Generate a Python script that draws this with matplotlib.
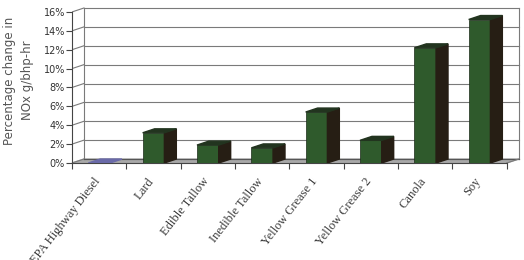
import matplotlib.pyplot as plt
import matplotlib.transforms as mtransforms
import numpy as np

# data
fuels = ['EPA Highway Diesel', 'Lard', 'Edible Tallow', 'Inedible Tallow',
         'Yellow Grease 1', 'Yellow Grease 2', 'Canola', 'Soy']
nox_change = [0.0, 3.2, 1.9, 1.6, 5.4, 2.4, 12.2, 15.2]
y_ticks = [0, 2, 4, 6, 8, 10, 12, 14, 16]
y_ticklabels = ['0%', '2%', '4%', '6%', '8%', '10%', '12%', '14%', '16%']

# fake 3d depth (data units)
dx, dy = 0.22, 0.42
bar_w = 0.4
grid_c = '#7a7a7a'
front_c = '#2f5a2c'
side_c = '#261e14'
top_c = '#22341f'

fig = plt.figure(figsize=(5.24, 2.6), dpi=100)
ax = fig.add_axes([72/524, (260-163)/260, (523-72)/524, (163-4.4)/260])
ax.set_xlim(-0.5, 7.5 + 0.3)
ax.set_ylim(0, 16.8)

n = len(fuels)
x0, x1 = -0.5, n - 0.5

# floor
ax.fill([x0, x1, x1+dx, x0+dx], [0, 0, dy, dy], color='#a8a8a8', zorder=1, clip_on=False)
ax.plot([x0+dx, x1+dx], [dy, dy], color='#555555', lw=0.8, zorder=1.5)
ax.plot([x1, x1+dx], [0, dy], color=grid_c, lw=0.8, zorder=1.5)

# back wall + left wall gridlines
for g in y_ticks:
    ax.plot([x0+dx, x1+dx], [g+dy, g+dy], color=grid_c, lw=0.8, zorder=1)
    ax.plot([x0, x0+dx], [g, g+dy], color=grid_c, lw=0.8, zorder=1)
ax.plot([x0+dx, x0+dx], [dy, 16+dy], color=grid_c, lw=0.8, zorder=1)
ax.plot([x1+dx, x1+dx], [dy, 16+dy], color=grid_c, lw=0.8, zorder=1)

# bars
xs = np.arange(n)
ax.bar(xs, nox_change, width=bar_w, color=front_c, edgecolor='#1a2a18', lw=0.5, zorder=3)
for x, v in zip(xs, nox_change):
    l, r = x - bar_w/2, x + bar_w/2
    if v > 0:
        ax.fill([r, r+dx, r+dx, r], [0, dy, v+dy, v], color=side_c, zorder=3)
        ax.fill([l, r, r+dx, l+dx], [v, v, v+dy, v+dy], color=top_c, zorder=3)
    else:
        ax.fill([l, r, r+dx, l+dx], [v, v, v+dy, v+dy], color='#6a6aa8', zorder=3)

# axes styling
for s in ['top', 'right']:
    ax.spines[s].set_visible(False)
ax.spines['left'].set_bounds(0, 16)
ax.spines['bottom'].set_bounds(x0, x1)
ax.spines['left'].set_color('#444444')
ax.spines['bottom'].set_color('#444444')
ax.set_yticks(y_ticks, y_ticklabels, fontsize=7, color='#333333')
ax.tick_params(axis='y', direction='out', length=4, width=0.8, color='#444444', pad=1)
ax.set_xticks(xs, fuels, rotation=52, ha='right', rotation_mode='anchor',
              fontsize=9, family='Liberation Serif', color='#3a3a3a')
ax.set_xticks(np.arange(x0, x1 + 0.01, 1), minor=True)
ax.tick_params(axis='x', which='major', length=0, pad=9)
ax.tick_params(axis='x', which='minor', length=4, width=0.8, color='#444444')
shift = mtransforms.ScaledTranslation(-6/100, 0, fig.dpi_scale_trans)
for lab in ax.get_xticklabels():
    lab.set_transform(lab.get_transform() + shift)

fig.text(0.035, 0.69, 'Percentage change in\nNOx g/bhp-hr', rotation=90,
         ha='center', va='center', fontsize=8.5, color='#555555',
         linespacing=1.5)

fig.savefig('out.png', dpi=100)
